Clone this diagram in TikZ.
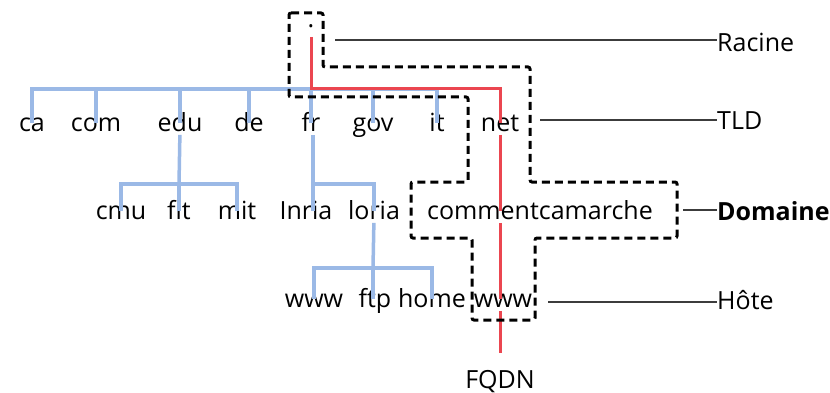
\documentclass[tikz,border=0pt]{standalone}
\usepackage{fontspec}
\setmainfont{Open Sans}
\definecolor{treeblue}{RGB}{155,185,230}
\definecolor{fqdnred}{RGB}{235,70,80}
\definecolor{guidegray}{RGB}{60,60,60}

\begin{document}
\begin{tikzpicture}[x=1pt, y=-1pt,
    font=\fontsize{25}{30}\selectfont,
    dom/.style={inner sep=1pt, text height=0.72em, text depth=0.22em},
    tree/.style={treeblue, line width=3.5pt},
    fqdn/.style={fqdnred, line width=3pt},
    zone/.style={line width=3pt, dash pattern=on 8pt off 5pt, rounded corners=2pt},
    guide/.style={guidegray, line width=2.2pt}]
  \useasboundingbox (0,0) rectangle (830,393);
  % Draw the root
  \node[dom] (root) at (311, 25) {.};
  % Draw the top level domains
  \node[dom] (ca) at (32, 129) {ca};
  \node[dom] (com) at (96, 129) {com};
  \node[dom] (edu) at (180, 129) {edu};
  \node[dom] (de) at (249, 129) {de};
  \node[dom] (fr) at (311, 129) {fr};
  \node[dom] (gov) at (373, 129) {gov};
  \node[dom] (it) at (437, 129) {it};
  \node[dom] (net) at (500, 129) {net};
  % Draw the second level
  \node[dom] (cmu) at (121, 217) {cmu};
  \node[dom] (fit) at (179, 217) {fit};
  \node[dom] (mit) at (237, 217) {mit};
  \node[dom] (inria) at (306, 217) {Inria};
  \node[dom] (loria) at (374, 217) {loria};
  \node[dom] (ccm) at (540, 217) {commentcamarche};
  % Draw the hosts
  \node[dom] (www) at (314, 305) {www};
  \node[dom] (ftp) at (375, 305) {ftp};
  \node[dom] (home) at (432, 305) {home};
  \node[dom] (host) at (503, 305) {www};
  \node[dom] (fqdnlbl) at (500, 386) {FQDN};
  % Draw the level names
  \node[anchor=base west, inner sep=0pt] (racine) at (717, 52) {Racine};
  \node[anchor=base west, inner sep=0pt] (tld) at (717, 130) {TLD};
  \node[anchor=base west, inner sep=0pt] (domaine) at (717, 220) {\bfseries Domaine};
  \node[anchor=base west, inner sep=0pt] (hote) at (717, 309) {Hôte};
  % Bus points of the tree
  \coordinate (b1) at (311, 89);
  \coordinate (b2) at (179, 184);
  \coordinate (b3) at (313, 184);
  \coordinate (b4) at (373, 268);
  % Draw the tree
  \draw[tree] (ca) |- (b1) -| (it);
  \foreach \t in {com, edu, de, fr, gov}
    \draw[tree] (\t) -- (\t |- b1);
  \draw[tree] (edu) -- (b2);
  \draw[tree] (cmu) |- (b2) -| (mit);
  \draw[tree] (fit) -- (fit |- b2);
  \draw[tree] (fr.south -| b3) -- (b3) -| (loria);
  \draw[tree] (b3) -- (b3 |- inria.north);
  \draw[tree] (loria) -- (b4);
  \draw[tree] (www) |- (b4) -| (home);
  \draw[tree] (ftp.north -| b4) -- (b4);
  % Draw the full name path
  \coordinate (fqdnend) at (500, 353);
  \draw[fqdn, shorten <=6pt] (root) -- (b1) -| (net);
  \draw[fqdn] (net) -- (net |- ccm.north);
  \draw[fqdn] (net |- ccm.south) -- (net |- host.north);
  \draw[fqdn] (net |- host.south) -- (fqdnend);
  % Draw the zones
  \draw[zone] (289, 13) -- (323, 13) -- (323, 67) -- (530, 67) -- (530, 182)
    -- (677, 182) -- (677, 238) -- (535, 238) -- (535, 320) -- (472, 320)
    -- (472, 238) -- (411, 238) -- (411, 182) -- (468, 182) -- (468, 97)
    -- (289, 97) -- cycle;
  % Draw the guides
  \coordinate (g1) at (335, 40);
  \coordinate (g2) at (540, 120);
  \coordinate (g3) at (683, 210);
  \coordinate (g4) at (548, 302);
  \draw[guide] (g1) -- (g1 -| racine.west);
  \draw[guide] (g2) -- (g2 -| tld.west);
  \draw[guide] (g3) -- (g3 -| domaine.west);
  \draw[guide] (g4) -- (g4 -| hote.west);
\end{tikzpicture}
\end{document}
